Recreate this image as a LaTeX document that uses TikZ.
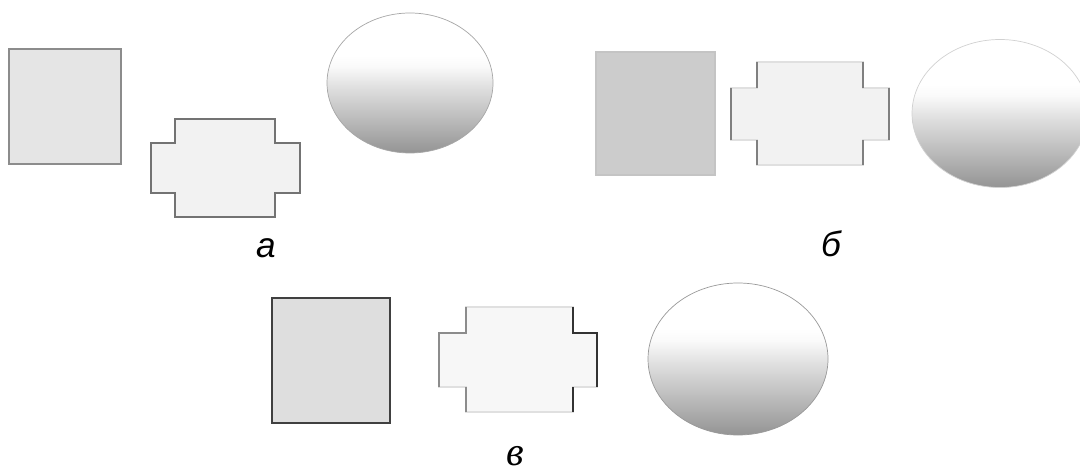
\documentclass[tikz,border=0pt]{standalone}
\usepackage{fontspec}
\newfontfamily\lblsans{Liberation Sans}
\newfontfamily\lblserif{Liberation Serif}

% white top, grey bottom
\pgfdeclareverticalshading{ballshade}{100bp}{color(0bp)=(black!42); color(25bp)=(black!42); color(36bp)=(black!28); color(48bp)=(black!13); color(56bp)=(black!2); color(60bp)=(white); color(100bp)=(white)}

\begin{document}
\begin{tikzpicture}[x=0.2mm, y=-0.2mm,
    lbl/.style={anchor=base, inner sep=0pt, font=\fontsize{20}{22}\selectfont\itshape},
    ball/.style={shading=ballshade, draw=black!35, line width=0.4pt}]
    \useasboundingbox (0,0) rectangle (1080,473);

    % Variant a
    \draw[fill=black!10, draw=black!45, line width=0.8pt] (9,49) rectangle (121,164);
    \draw[fill=black!5, draw=black!55, line width=0.8pt]
        (175,119) -- (275,119) -- (275,143) -- (300,143) -- (300,193) -- (275,193)
        -- (275,217) -- (175,217) -- (175,193) -- (151,193) -- (151,143) -- (175,143) -- cycle;
    \path[ball] (410,83) ellipse [x radius=83, y radius=70];
    \node[lbl] (labA) at (266,258) {\lblsans а};

    % Variant b
    \draw[fill=black!20, draw=black!23, line width=0.6pt] (596,52) rectangle (715,175);
    \draw[fill=black!5, draw=black!12, line width=0.6pt]
        (757,62) -- (863,62) -- (863,88) -- (889,88) -- (889,140) -- (863,140)
        -- (863,165) -- (757,165) -- (757,140) -- (731,140) -- (731,88) -- (757,88) -- cycle;
    \draw[black!50, line width=0.8pt] (757,62) -- (757,88) (731,88) -- (731,140) (757,140) -- (757,165)
        (863,62) -- (863,88) (889,88) -- (889,140) (863,140) -- (863,165);
    \path[ball, draw=black!18] (1000,113.5) ellipse [x radius=88, y radius=74];
    \node[lbl] (labB) at (831,257) {\lblsans б};

    % Variant c
    \draw[fill=black!13, draw=black!75, line width=1.1pt] (272,298) rectangle (390,423);
    \draw[fill=black!3, draw=black!12, line width=0.6pt]
        (466,307) -- (573,307) -- (573,333) -- (597,333) -- (597,387) -- (573,387)
        -- (573,412) -- (466,412) -- (466,387) -- (439,387) -- (439,333) -- (466,333) -- cycle;
    \draw[black!45, line width=0.8pt] (466,307) -- (466,333) -- (439,333) -- (439,387) (466,387) -- (466,412);
    \draw[black!80, line width=1pt] (573,307) -- (573,333) -- (597,333) -- (597,387) (573,387) -- (573,412);
    \path[ball, draw=black!40] (738,359) ellipse [x radius=90, y radius=76];
    \node[lbl, font=\fontsize{23}{25}\selectfont\itshape] (labC) at (515,465) {\lblserif в};
\end{tikzpicture}
\end{document}
